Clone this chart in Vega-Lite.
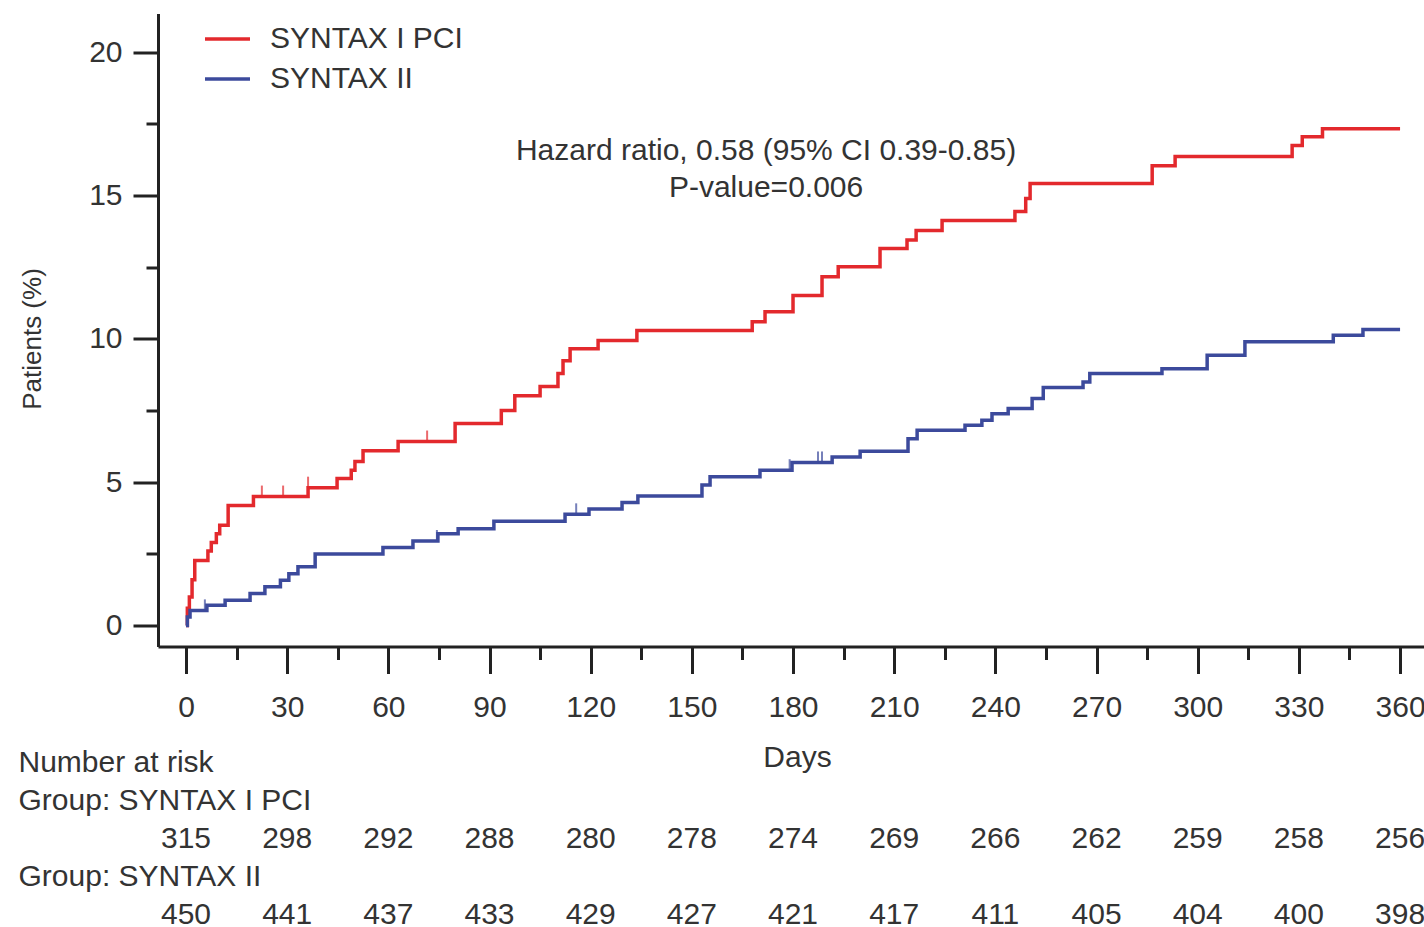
{
  "$schema": "https://vega.github.io/schema/vega-lite/v6.json",
  "background": "white",
  "padding": {"left": 18, "top": 13.5, "right": 0, "bottom": 0},
  "bounds": "flush",
  "spacing": 97,
  "config": {"view": {"stroke": null}, "font": "Liberation Sans"},
  "resolve": {"scale": {"color": "independent"}},
  "datasets": {
    "km": [
      {"group": "SYNTAX I PCI", "day": 0, "pct": 0},
      {"group": "SYNTAX I PCI", "day": 0.4, "pct": 0.6},
      {"group": "SYNTAX I PCI", "day": 1, "pct": 1.0},
      {"group": "SYNTAX I PCI", "day": 1.8, "pct": 1.6},
      {"group": "SYNTAX I PCI", "day": 2.6, "pct": 2.27},
      {"group": "SYNTAX I PCI", "day": 6.5, "pct": 2.6},
      {"group": "SYNTAX I PCI", "day": 7.5, "pct": 2.9},
      {"group": "SYNTAX I PCI", "day": 9, "pct": 3.2},
      {"group": "SYNTAX I PCI", "day": 10, "pct": 3.5},
      {"group": "SYNTAX I PCI", "day": 12.5, "pct": 4.19},
      {"group": "SYNTAX I PCI", "day": 20, "pct": 4.5},
      {"group": "SYNTAX I PCI", "day": 36.2, "pct": 4.81},
      {"group": "SYNTAX I PCI", "day": 44.8, "pct": 5.13},
      {"group": "SYNTAX I PCI", "day": 49, "pct": 5.42},
      {"group": "SYNTAX I PCI", "day": 50.1, "pct": 5.72},
      {"group": "SYNTAX I PCI", "day": 52.5, "pct": 6.1},
      {"group": "SYNTAX I PCI", "day": 62.9, "pct": 6.42},
      {"group": "SYNTAX I PCI", "day": 79.8, "pct": 7.05},
      {"group": "SYNTAX I PCI", "day": 93.5, "pct": 7.5},
      {"group": "SYNTAX I PCI", "day": 97.5, "pct": 8.02},
      {"group": "SYNTAX I PCI", "day": 105, "pct": 8.34},
      {"group": "SYNTAX I PCI", "day": 110.3, "pct": 8.79},
      {"group": "SYNTAX I PCI", "day": 111.8, "pct": 9.24},
      {"group": "SYNTAX I PCI", "day": 113.9, "pct": 9.66},
      {"group": "SYNTAX I PCI", "day": 122.2, "pct": 9.94},
      {"group": "SYNTAX I PCI", "day": 133.7, "pct": 10.29},
      {"group": "SYNTAX I PCI", "day": 167.9, "pct": 10.6},
      {"group": "SYNTAX I PCI", "day": 171.7, "pct": 10.95},
      {"group": "SYNTAX I PCI", "day": 180, "pct": 11.51},
      {"group": "SYNTAX I PCI", "day": 188.6, "pct": 12.17},
      {"group": "SYNTAX I PCI", "day": 193.4, "pct": 12.52},
      {"group": "SYNTAX I PCI", "day": 205.8, "pct": 13.15},
      {"group": "SYNTAX I PCI", "day": 213.8, "pct": 13.45},
      {"group": "SYNTAX I PCI", "day": 216.5, "pct": 13.78},
      {"group": "SYNTAX I PCI", "day": 224.2, "pct": 14.13},
      {"group": "SYNTAX I PCI", "day": 245.8, "pct": 14.44},
      {"group": "SYNTAX I PCI", "day": 249, "pct": 14.9},
      {"group": "SYNTAX I PCI", "day": 250.3, "pct": 15.42},
      {"group": "SYNTAX I PCI", "day": 286.5, "pct": 16.04},
      {"group": "SYNTAX I PCI", "day": 293.3, "pct": 16.36},
      {"group": "SYNTAX I PCI", "day": 328, "pct": 16.75},
      {"group": "SYNTAX I PCI", "day": 331, "pct": 17.05},
      {"group": "SYNTAX I PCI", "day": 337, "pct": 17.33},
      {"group": "SYNTAX I PCI", "day": 360, "pct": 17.33},
      {"group": "SYNTAX II", "day": 0, "pct": 0},
      {"group": "SYNTAX II", "day": 0.4, "pct": 0.3},
      {"group": "SYNTAX II", "day": 1.2, "pct": 0.53},
      {"group": "SYNTAX II", "day": 6.2, "pct": 0.71},
      {"group": "SYNTAX II", "day": 11.6, "pct": 0.88},
      {"group": "SYNTAX II", "day": 19, "pct": 1.12},
      {"group": "SYNTAX II", "day": 23.4, "pct": 1.35},
      {"group": "SYNTAX II", "day": 28, "pct": 1.58},
      {"group": "SYNTAX II", "day": 30.5, "pct": 1.81},
      {"group": "SYNTAX II", "day": 33.2, "pct": 2.05},
      {"group": "SYNTAX II", "day": 38.3, "pct": 2.5},
      {"group": "SYNTAX II", "day": 58.4, "pct": 2.72},
      {"group": "SYNTAX II", "day": 67.3, "pct": 2.95},
      {"group": "SYNTAX II", "day": 74.7, "pct": 3.2},
      {"group": "SYNTAX II", "day": 80.7, "pct": 3.38},
      {"group": "SYNTAX II", "day": 91.3, "pct": 3.64},
      {"group": "SYNTAX II", "day": 112.4, "pct": 3.88},
      {"group": "SYNTAX II", "day": 119.5, "pct": 4.07},
      {"group": "SYNTAX II", "day": 129.3, "pct": 4.29},
      {"group": "SYNTAX II", "day": 134, "pct": 4.52},
      {"group": "SYNTAX II", "day": 153, "pct": 4.9},
      {"group": "SYNTAX II", "day": 155.4, "pct": 5.19},
      {"group": "SYNTAX II", "day": 170.2, "pct": 5.42},
      {"group": "SYNTAX II", "day": 179.7, "pct": 5.69},
      {"group": "SYNTAX II", "day": 191.6, "pct": 5.88},
      {"group": "SYNTAX II", "day": 199.9, "pct": 6.08},
      {"group": "SYNTAX II", "day": 214.1, "pct": 6.52},
      {"group": "SYNTAX II", "day": 216.8, "pct": 6.81},
      {"group": "SYNTAX II", "day": 231, "pct": 6.99},
      {"group": "SYNTAX II", "day": 236, "pct": 7.16},
      {"group": "SYNTAX II", "day": 239, "pct": 7.39},
      {"group": "SYNTAX II", "day": 243.8, "pct": 7.57},
      {"group": "SYNTAX II", "day": 250.9, "pct": 7.92},
      {"group": "SYNTAX II", "day": 254.2, "pct": 8.3},
      {"group": "SYNTAX II", "day": 266, "pct": 8.5},
      {"group": "SYNTAX II", "day": 268, "pct": 8.79},
      {"group": "SYNTAX II", "day": 289.4, "pct": 8.96},
      {"group": "SYNTAX II", "day": 302.8, "pct": 9.43},
      {"group": "SYNTAX II", "day": 314, "pct": 9.9},
      {"group": "SYNTAX II", "day": 340.2, "pct": 10.13},
      {"group": "SYNTAX II", "day": 349, "pct": 10.33},
      {"group": "SYNTAX II", "day": 360, "pct": 10.33}
    ],
    "censor": [
      {"group": "SYNTAX I PCI", "day": 22.5, "pct": 4.5},
      {"group": "SYNTAX I PCI", "day": 28.8, "pct": 4.5},
      {"group": "SYNTAX I PCI", "day": 36.2, "pct": 4.81},
      {"group": "SYNTAX I PCI", "day": 71.5, "pct": 6.42},
      {"group": "SYNTAX II", "day": 5.6, "pct": 0.53},
      {"group": "SYNTAX II", "day": 74.4, "pct": 2.95},
      {"group": "SYNTAX II", "day": 115.7, "pct": 3.88},
      {"group": "SYNTAX II", "day": 179, "pct": 5.42},
      {"group": "SYNTAX II", "day": 187.4, "pct": 5.69},
      {"group": "SYNTAX II", "day": 188.6, "pct": 5.69}
    ],
    "risk": [
      {"group": "SYNTAX I PCI", "day": 0, "n": 315},
      {"group": "SYNTAX I PCI", "day": 30, "n": 298},
      {"group": "SYNTAX I PCI", "day": 60, "n": 292},
      {"group": "SYNTAX I PCI", "day": 90, "n": 288},
      {"group": "SYNTAX I PCI", "day": 120, "n": 280},
      {"group": "SYNTAX I PCI", "day": 150, "n": 278},
      {"group": "SYNTAX I PCI", "day": 180, "n": 274},
      {"group": "SYNTAX I PCI", "day": 210, "n": 269},
      {"group": "SYNTAX I PCI", "day": 240, "n": 266},
      {"group": "SYNTAX I PCI", "day": 270, "n": 262},
      {"group": "SYNTAX I PCI", "day": 300, "n": 259},
      {"group": "SYNTAX I PCI", "day": 330, "n": 258},
      {"group": "SYNTAX I PCI", "day": 360, "n": 256},
      {"group": "SYNTAX II", "day": 0, "n": 450},
      {"group": "SYNTAX II", "day": 30, "n": 441},
      {"group": "SYNTAX II", "day": 60, "n": 437},
      {"group": "SYNTAX II", "day": 90, "n": 433},
      {"group": "SYNTAX II", "day": 120, "n": 429},
      {"group": "SYNTAX II", "day": 150, "n": 427},
      {"group": "SYNTAX II", "day": 180, "n": 421},
      {"group": "SYNTAX II", "day": 210, "n": 417},
      {"group": "SYNTAX II", "day": 240, "n": 411},
      {"group": "SYNTAX II", "day": 270, "n": 405},
      {"group": "SYNTAX II", "day": 300, "n": 404},
      {"group": "SYNTAX II", "day": 330, "n": 400},
      {"group": "SYNTAX II", "day": 360, "n": 398}
    ]
  },
  "vconcat": [
    {
      "width": 1266,
      "height": 633,
      "resolve": {"axis": {"x": "independent", "y": "independent"}},
      "layer": [
        {
          "data": {"name": "km"},
          "mark": {"type": "line", "interpolate": "step-after", "strokeWidth": 3.5},
          "encoding": {
            "x": {
              "field": "day", "type": "quantitative",
              "scale": {"domain": [-8.3, 367.1], "nice": false, "zero": false},
              "axis": {
                "orient": "bottom",
                "values": [0, 30, 60, 90, 120, 150, 180, 210, 240, 270, 300, 330, 360],
                "grid": false, "tickSize": 27, "tickWidth": 3, "tickColor": "#222222",
                "domainWidth": 3, "domainColor": "#222222",
                "labelFontSize": 30, "labelColor": "#333333", "labelBaseline": "alphabetic",
                "labelPadding": 43, "labelFlush": false, "labelOverlap": false,
                "title": "Days", "titleFontSize": 30, "titleFontWeight": "normal", "titleColor": "#333333",
                "titleX": 639, "titleY": 120, "titleBaseline": "alphabetic", "titleAlign": "center"
              }
            },
            "y": {
              "field": "pct", "type": "quantitative",
              "scale": {"domain": [-0.73, 21.35], "nice": false, "zero": false},
              "axis": {
                "orient": "left",
                "values": [0, 5, 10, 15, 20],
                "grid": false, "tickSize": 25, "tickWidth": 3, "tickColor": "#222222",
                "domainWidth": 3, "domainColor": "#222222",
                "labelFontSize": 30, "labelColor": "#333333", "labelPadding": 11,
                "labelFlush": false, "labelOverlap": false,
                "title": "Patients (%)", "titleFontSize": 26, "titleFontWeight": "normal", "titleColor": "#333333",
                "titleX": -118, "titleY": 325, "titleAngle": -90, "titleBaseline": "alphabetic", "titleAlign": "center"
              }
            },
            "color": {
              "field": "group", "type": "nominal",
              "scale": {"domain": ["SYNTAX I PCI", "SYNTAX II"], "range": ["#e3292d", "#3c4a9c"]},
              "legend": {
                "orient": "none", "legendX": 45, "legendY": 1, "title": null, "direction": "vertical",
                "symbolType": "stroke", "symbolSize": 2025, "symbolStrokeWidth": 3.5,
                "labelFontSize": 30, "labelColor": "#333333", "labelOffset": 18,
                "rowPadding": 0, "padding": 0, "labelLimit": 400
              }
            }
          }
        },
        {
          "data": {"name": "censor"},
          "mark": {"type": "tick", "orient": "vertical", "size": 11, "thickness": 2, "yOffset": -5.5},
          "encoding": {
            "x": {
              "field": "day", "type": "quantitative",
              "axis": {
                "orient": "bottom", "values": [15, 45, 75, 105, 135, 165, 195, 225, 255, 285, 315, 345],
                "labels": false, "domain": false, "grid": false, "title": null,
                "tickSize": 13, "tickWidth": 3, "tickColor": "#222222"
              }
            },
            "y": {
              "field": "pct", "type": "quantitative",
              "axis": {
                "orient": "left", "values": [2.5, 7.5, 12.5, 17.5],
                "labels": false, "domain": false, "grid": false, "title": null,
                "tickSize": 12, "tickWidth": 3, "tickColor": "#222222"
              }
            },
            "color": {"field": "group", "type": "nominal", "legend": null}
          }
        },
        {
          "data": {"values": [{}]},
          "mark": {"type": "text", "fontSize": 30, "color": "#333333", "align": "center", "baseline": "middle", "lineHeight": 37},
          "encoding": {
            "x": {"datum": 172, "type": "quantitative", "axis": null},
            "y": {"datum": 16.54, "type": "quantitative", "axis": null},
            "text": {"value": ["Hazard ratio, 0.58 (95% CI 0.39-0.85)", "P-value=0.006"]}
          }
        }
      ]
    },
    {
      "width": 1266,
      "height": 191,
      "data": {"name": "risk"},
      "mark": {"type": "text", "fontSize": 30, "color": "#333333", "align": "center", "baseline": "middle"},
      "encoding": {
        "x": {
          "field": "day", "type": "quantitative",
          "scale": {"domain": [-8.3, 367.1], "nice": false, "zero": false},
          "axis": null
        },
        "y": {
          "field": "group", "type": "nominal",
          "scale": {
            "type": "band",
            "domain": ["Number at risk", "Group: SYNTAX I PCI", "SYNTAX I PCI", "Group: SYNTAX II", "SYNTAX II"],
            "paddingInner": 0, "paddingOuter": 0
          },
          "axis": {
            "orient": "left", "domain": false, "ticks": false, "tickSize": 0, "grid": false,
            "labelAlign": "left", "labelPadding": 140, "labelFontSize": 30, "labelColor": "#333333",
            "labelLimit": 600, "title": null,
            "labelExpr": "datum.value == 'SYNTAX I PCI' || datum.value == 'SYNTAX II' ? '' : datum.value"
          }
        },
        "text": {"field": "n", "type": "quantitative"}
      }
    }
  ]
}
